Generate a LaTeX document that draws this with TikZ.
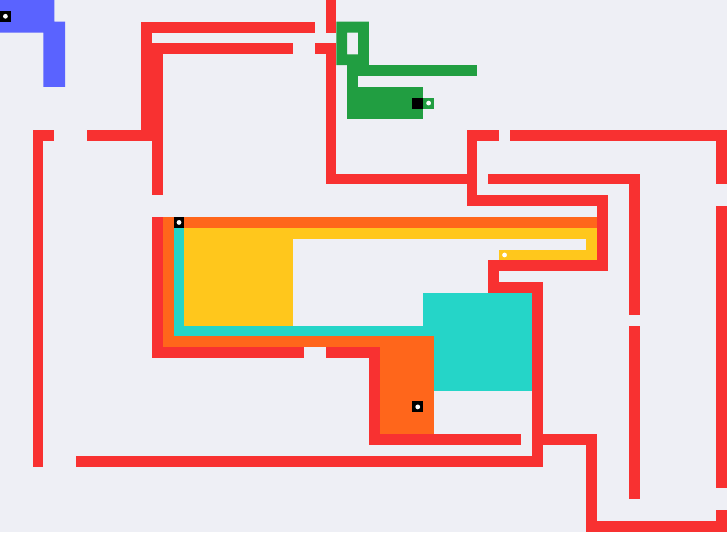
\documentclass[tikz,border=0pt]{standalone}
\usepackage{tikz}
\definecolor{bgpaper}{HTML}{EEEFF5}
\definecolor{wallred}{HTML}{F83131}
\definecolor{pathblue}{HTML}{5A63FF}
\definecolor{pathgreen}{HTML}{219E41}
\definecolor{pathorange}{HTML}{FF661B}
\definecolor{pathyellow}{HTML}{FFC71C}
\definecolor{pathteal}{HTML}{25D5C8}

\begin{document}
\begin{tikzpicture}[x=0.3cm, y=-0.3cm]

% grid of 67 x 49 cells, y grows downwards
\fill[bgpaper] (0,0) rectangle (67,49.03);
\useasboundingbox (0,0) rectangle (67,49.03);

% Walls (x1/y1/x2/y2 in cells)
\foreach \xa/\ya/\xb/\yb in {
  3/12/5/13, 3/12/4/43, 8/12/14/13,
  13/2/29/3, 13/2/14/13, 14/4/27/5, 14/4/15/18,
  30/0/31/3, 29/4/31/5, 30/4/31/17, 30/16/44/17,
  43/12/46/13, 43/12/44/19, 43/18/56/19, 55/18/56/25,
  45/24/56/25, 45/24/46/27, 45/26/50/27, 49/26/50/43,
  47/12/67/13, 66/12/67/17, 66/19/67/45, 66/47/67/49.03,
  45/16/59/17, 58/16/59/29, 58/30/59/46,
  14/20/15/33, 14/32/28/33, 30/32/35/33, 34/32/35/41, 34/40/48/41,
  7/42/50/43, 50/40/55/41, 54/40/55/49.03, 54/48/67/49.03}
  \fill[wallred] (\xa,\ya) rectangle (\xb,\yb);

% Blue path
\fill[pathblue] (0,0) -- (5,0) -- (5,2) -- (6,2) -- (6,8) -- (4,8) -- (4,3) -- (0,3) -- cycle;

% Green path
\fill[pathgreen, even odd rule] (31,2) rectangle (34,6) (32,3) rectangle (33,5);
\fill[pathgreen] (32,6) rectangle (44,7);
\fill[pathgreen] (32,6) rectangle (33,11);
\fill[pathgreen] (32,8) rectangle (39,11);
\fill[pathgreen] (39,9) rectangle (40,10);

% Teal path
\fill[pathteal] (16,21) rectangle (17,31);
\fill[pathteal] (16,30) rectangle (40,31);
\fill[pathteal] (39,27) rectangle (49,36);

% Orange path
\fill[pathorange] (15,20) rectangle (55,21);
\fill[pathorange] (15,20) rectangle (16,32);
\fill[pathorange] (15,31) rectangle (40,32);
\fill[pathorange] (35,31) rectangle (40,40);

% Yellow path
\fill[pathyellow] (17,21) rectangle (55,22);
\fill[pathyellow] (17,21) rectangle (27,30);
\fill[pathyellow] (54,21) rectangle (55,24);
\fill[pathyellow] (46,23) rectangle (55,24);

% Start cells
\foreach \cx/\cy in {0/1, 16/20, 38/37, 38/9}
  \fill[black] (\cx,\cy) rectangle ++(1,1);

% End dots
\foreach \cx/\cy in {0/1, 16/20, 38/37, 39/9, 46/23}
  \fill[white] (\cx+0.5,\cy+0.5) circle (0.22);

\end{tikzpicture}
\end{document}
